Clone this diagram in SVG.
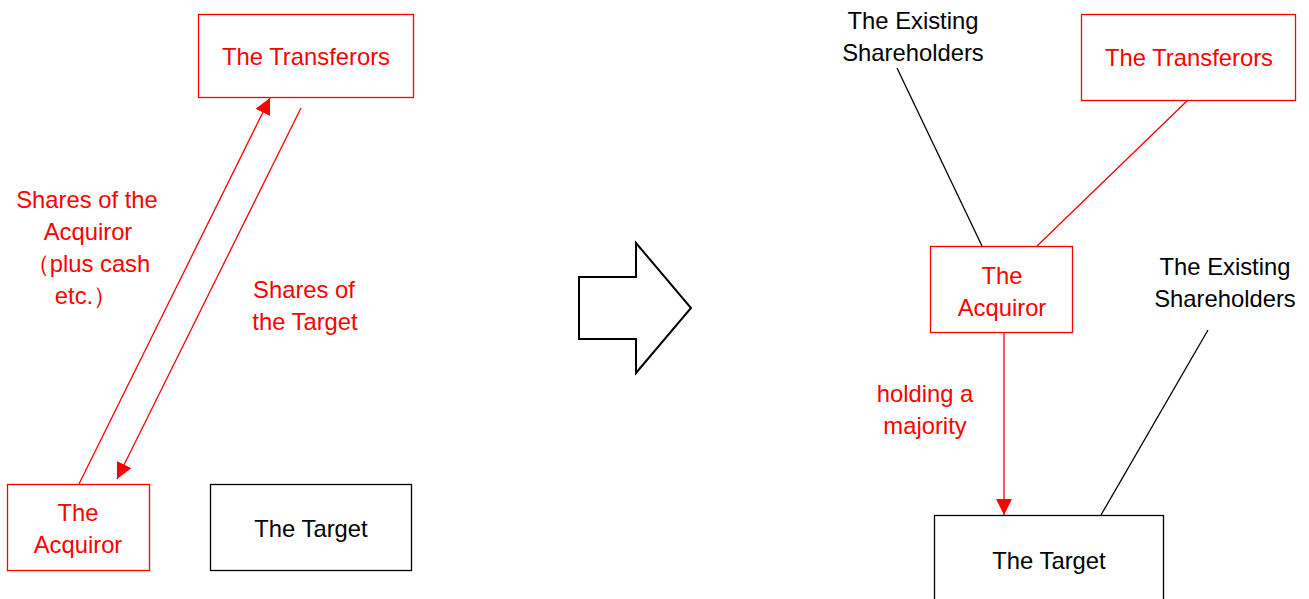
<svg xmlns="http://www.w3.org/2000/svg" width="1309" height="599" viewBox="0 0 1309 599">
<style>
text{font-family:"Liberation Sans",Arial,sans-serif;font-size:23.8px;text-anchor:middle}
.r{fill:#ff0000}
.k{fill:#000}
.rb{fill:#fff;stroke:#ff0000;stroke-width:1.3}
.kb{fill:#fff;stroke:#000;stroke-width:1.3}
.rl{stroke:#ff0000;stroke-width:1.3;fill:none}
.kl{stroke:#000;stroke-width:1.3;fill:none}
</style>
<defs>
<marker id="ah2" markerWidth="16" markerHeight="16" viewBox="0 0 16 16" refX="16" refY="8" orient="auto" markerUnits="userSpaceOnUse">
<path d="M0,0 L16,8 L0,16 Z" fill="#ff0000"/>
</marker>
</defs>
<g id="connectors">
<line class="rl" x1="79" y1="484" x2="270" y2="98" marker-end="url(#ah2)"/>
<line class="rl" x1="301" y1="108" x2="117" y2="479" marker-end="url(#ah2)"/>
<line class="kl" x1="897" y1="68" x2="982" y2="246"/>
<line class="rl" x1="1188" y1="100" x2="1037" y2="246"/>
<line class="rl" x1="1004" y1="332" x2="1004" y2="515" marker-end="url(#ah2)"/>
<line class="kl" x1="1208" y1="330" x2="1101" y2="515"/>
</g>
<g id="transferors-left">
<rect class="rb" x="198.5" y="14.5" width="215" height="83"/>
<text class="r" x="306" y="65">The Transferors</text>
</g>
<g id="acquiror-left">
<rect class="rb" x="7.5" y="484.5" width="142" height="86"/>
<text class="r" x="78" y="521">The</text>
<text class="r" x="78" y="553">Acquiror</text>
</g>
<g id="target-left">
<rect class="kb" x="210.5" y="484.5" width="201" height="86"/>
<text class="k" x="311" y="537">The Target</text>
</g>
<g id="label-shares-acquiror">
<text class="r" x="87" y="208">Shares of the</text>
<text class="r" x="88" y="240">Acquiror</text>
<text class="r" x="88" y="272">（plus cash</text>
<text class="r" x="86" y="304">etc.）</text>
</g>
<g id="label-shares-target">
<text class="r" x="304" y="298">Shares of</text>
<text class="r" x="305" y="330">the Target</text>
</g>
<g id="big-arrow">
<polygon points="579,277 636,277 636,243 691,308 636,373 636,339 579,339" fill="#fff" stroke="#000" stroke-width="2"/>
</g>
<g id="existing-shareholders-1">
<text class="k" x="913" y="29">The Existing</text>
<text class="k" x="913" y="61">Shareholders</text>
</g>
<g id="transferors-right">
<rect class="rb" x="1081.5" y="14.5" width="214" height="86"/>
<text class="r" x="1189" y="66">The Transferors</text>
</g>
<g id="acquiror-right">
<rect class="rb" x="930.5" y="246.5" width="142" height="86"/>
<text class="r" x="1002" y="284">The</text>
<text class="r" x="1002" y="316">Acquiror</text>
</g>
<g id="label-majority">
<text class="r" x="925" y="402">holding a</text>
<text class="r" x="925" y="434">majority</text>
</g>
<g id="existing-shareholders-2">
<text class="k" x="1225" y="275">The Existing</text>
<text class="k" x="1225" y="307">Shareholders</text>
</g>
<g id="target-right">
<rect class="kb" x="934.5" y="515.5" width="229" height="100"/>
<text class="k" x="1049" y="569">The Target</text>
</g>
</svg>
